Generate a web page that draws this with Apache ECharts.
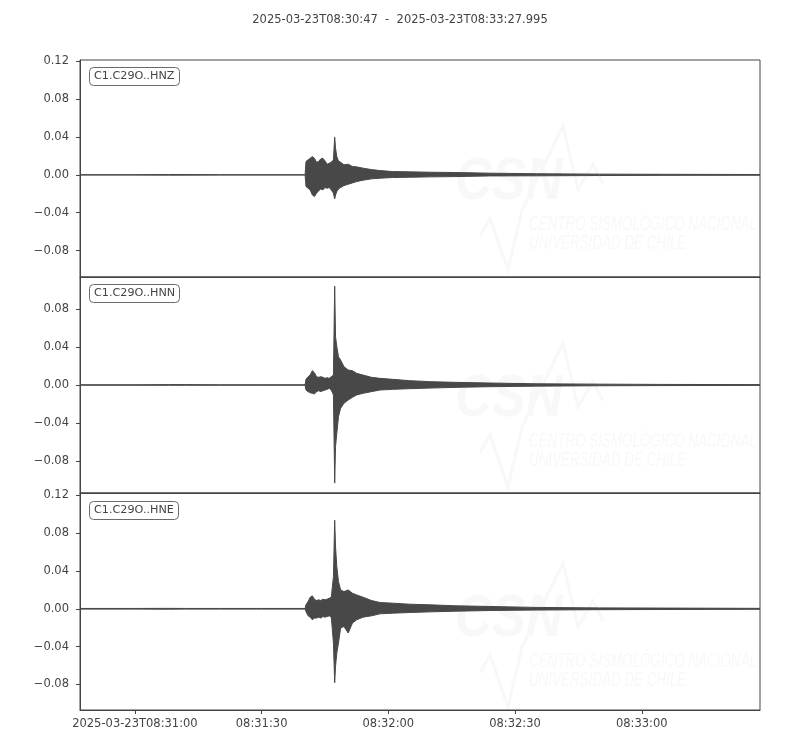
<!DOCTYPE html>
<html>
<head>
<meta charset="utf-8">
<title>C1.C29O</title>
<script src="https://cdn.jsdelivr.net/npm/echarts@6/dist/echarts.min.js"></script>
<style>
  html, body { margin: 0; padding: 0; background: #fff; }
  #chart { width: 800px; height: 750px; }
</style>
</head>
<body>
<div id="chart"></div>
<script>
// time axis: seconds relative to 08:31:00 (trace starts 08:30:47, ends 08:33:27.995)
var timesSec = [-13, 0, 8, 12, 20, 30, 40.3,
  40.5, 41, 41.5, 42, 42.5, 43, 43.5, 44, 44.5, 45, 45.5, 46, 46.5, 47,
  47.3, 47.5, 47.8, 48.2, 48.7, 49.5, 50.5, 51.5, 52.5, 54, 56, 58, 61, 65, 70, 76, 84,
  95, 110, 125, 147.995];

// envelope (upper / lower amplitude)
var hnzHigh = [0.0002, 0.0002, 0.0004, 0.0004, 0.0002, 0.0002, 0.0002,
  0.0141, 0.0159, 0.0176, 0.0194, 0.0176, 0.0134, 0.0141, 0.0169, 0.0176, 0.0148, 0.0113, 0.0123, 0.0134, 0.0159,
  0.0399, 0.0282, 0.0194, 0.0148, 0.0134, 0.0106, 0.0113, 0.0088, 0.0085, 0.0071, 0.0056, 0.0046, 0.0035, 0.0032, 0.0028, 0.0025, 0.0018,
  0.0012, 0.0008, 0.0006, 0.0004];
var hnzLow = [-0.0002, -0.0002, -0.0003, -0.0003, -0.0002, -0.0002, -0.0002,
  -0.0123, -0.0141, -0.0159, -0.0212, -0.0229, -0.0194, -0.0169, -0.0148, -0.0159, -0.0134, -0.0141, -0.0134, -0.0159, -0.0194,
  -0.0254, -0.0212, -0.0176, -0.0148, -0.0134, -0.0113, -0.0099, -0.0085, -0.0071, -0.0056, -0.0042, -0.0035, -0.0028, -0.0025, -0.0021, -0.0018, -0.0011,
  -0.0010, -0.0007, -0.0005, -0.0004];

var hnnHigh = [0.0002, 0.0002, 0.0004, 0.0004, 0.0002, 0.0002, 0.0002,
  0.0060, 0.0088, 0.0105, 0.0151, 0.0130, 0.0088, 0.0081, 0.0088, 0.0081, 0.0070, 0.0077, 0.0070, 0.0088, 0.0105,
  0.1042, 0.0509, 0.0404, 0.0298, 0.0263, 0.0193, 0.0158, 0.0151, 0.0123, 0.0105, 0.0081, 0.0070, 0.0060, 0.0046, 0.0035, 0.0028, 0.0021,
  0.0013, 0.0009, 0.0006, 0.0004];
var hnnLow = [-0.0002, -0.0002, -0.0003, -0.0003, -0.0002, -0.0002, -0.0002,
  -0.0053, -0.0070, -0.0081, -0.0088, -0.0095, -0.0070, -0.0060, -0.0070, -0.0060, -0.0053, -0.0046, -0.0035, -0.0053, -0.0105,
  -0.1035, -0.0649, -0.0509, -0.0333, -0.0246, -0.0193, -0.0158, -0.0130, -0.0105, -0.0088, -0.0070, -0.0053, -0.0046, -0.0039, -0.0032, -0.0025, -0.0018,
  -0.0012, -0.0008, -0.0006, -0.0004];

var hneHigh = [0.0004, 0.0004, 0.0005, 0.0004, 0.0004, 0.0004, 0.0004,
  0.0042, 0.0077, 0.0123, 0.0137, 0.0102, 0.0088, 0.0095, 0.0088, 0.0102, 0.0095, 0.0102, 0.0112, 0.0123, 0.0340,
  0.0937, 0.0656, 0.0446, 0.0288, 0.0200, 0.0182, 0.0200, 0.0165, 0.0147, 0.0123, 0.0088, 0.0067, 0.0060, 0.0049, 0.0042, 0.0032, 0.0025,
  0.0015, 0.0010, 0.0008, 0.0005];
var hneLow = [-0.0003, -0.0003, -0.0004, -0.0003, -0.0003, -0.0003, -0.0003,
  -0.0028, -0.0074, -0.0088, -0.0116, -0.0098, -0.0098, -0.0088, -0.0098, -0.0081, -0.0088, -0.0081, -0.0074, -0.0088, -0.0361,
  -0.0782, -0.0607, -0.0467, -0.0361, -0.0204, -0.0186, -0.0256, -0.0151, -0.0116, -0.0088, -0.0074, -0.0053, -0.0046, -0.0039, -0.0032, -0.0025, -0.0018,
  -0.0013, -0.0009, -0.0007, -0.0005];

var traceNames = ['C1.C29O..HNZ', 'C1.C29O..HNN', 'C1.C29O..HNE'];
var xTickValues = [0, 30, 60, 90, 120];
var xTickLabels = ['2025-03-23T08:31:00', '08:31:30', '08:32:00', '08:32:30', '08:33:00'];
var yTicksHNZ = [-0.08, -0.04, 0, 0.04, 0.08, 0.12];
var yTicksHNN = [-0.08, -0.04, 0, 0.04, 0.08];
var yTicksHNE = [-0.08, -0.04, 0, 0.04, 0.08, 0.12];
var yRangeHNZ = [-0.108, 0.1215];
var yRangeHNN = [-0.114, 0.114];
var yRangeHNE = [-0.107, 0.1225];

var TXT = '#444';
var WAVE = '#484848';
var FONT = 'DejaVu Sans';

var chart = echarts.init(document.getElementById('chart'), null, { renderer: 'canvas' });

var panelTops = [60, 277, 493];
var panelHeights = [217, 216, 217];

function fmtY(v) {
  return (v < 0 ? '\u2212' : '') + Math.abs(v).toFixed(2);
}

function makeGrid(i) {
  return {
    left: 80, right: 40, top: panelTops[i], height: panelHeights[i],
    show: true, borderColor: TXT, borderWidth: 1, backgroundColor: 'transparent'
  };
}

function makeX(i) {
  var last = i === 2;
  return {
    type: 'value', gridIndex: i, min: -13, max: 147.995, position: 'bottom',
    splitLine: { show: false },
    axisLine: { show: true, onZero: false, lineStyle: { color: TXT, width: 1 } },
    axisTick: { show: last, length: 4, lineStyle: { color: TXT }, customValues: xTickValues },
    axisLabel: {
      show: last, customValues: xTickValues, color: TXT, fontSize: 11.5, fontFamily: FONT, margin: 8,
      formatter: function (v) {
        var k = xTickValues.indexOf(v);
        return k >= 0 ? xTickLabels[k] : '';
      }
    }
  };
}

function makeY(i, range, ticks) {
  return {
    type: 'value', gridIndex: i, min: range[0], max: range[1], position: 'left',
    splitLine: { show: false },
    axisLine: { show: true, onZero: false, lineStyle: { color: TXT, width: 1 } },
    axisTick: { show: true, length: 4, lineStyle: { color: TXT }, customValues: ticks },
    axisLabel: { customValues: ticks, color: TXT, fontSize: 11.5, fontFamily: FONT, margin: 11, formatter: fmtY }
  };
}

// envelope drawn as one closed polygon: upper edge forward, lower edge back
function traceSeries(i, hi, lo) {
  var rows = timesSec.map(function (t, k) { return [t, hi[k], lo[k]]; });
  return {
    name: traceNames[i],
    type: 'custom', xAxisIndex: i, yAxisIndex: i, silent: true, clip: true,
    data: rows,
    encode: { x: 0, y: [1, 2] },
    renderItem: function (params, api) {
      if (params.dataIndex !== 0) return null;
      var pts = [];
      for (var k = 0; k < rows.length; k++) pts.push(api.coord([rows[k][0], rows[k][1]]));
      for (var j = rows.length - 1; j >= 0; j--) pts.push(api.coord([rows[j][0], rows[j][2]]));
      return {
        type: 'polygon',
        shape: { points: pts },
        style: { fill: WAVE, stroke: WAVE, lineWidth: 1 }
      };
    }
  };
}

// faint CSN watermark, one per panel
var markOffsets = [0, 217, 437];
var MARK = '#f8f8f8';
var graphics = [];
markOffsets.forEach(function (dy) {
  graphics.push({
    type: 'polyline', silent: true, z: -1,
    shape: { points: [[480, 236 + dy], [490, 218 + dy], [508, 270 + dy], [522, 210 + dy], [563, 126 + dy], [578, 190 + dy], [593, 164 + dy], [603, 184 + dy]] },
    style: { stroke: MARK, lineWidth: 3, fill: null }
  });
  graphics.push({
    type: 'text', silent: true, z: -1, x: 455, y: 152 + dy, scaleX: 0.85,
    style: { text: 'CSN', font: 'italic bold 60px "Liberation Sans"', fill: MARK }
  });
  graphics.push({
    type: 'text', silent: true, z: -1, x: 529, y: 214 + dy, scaleX: 0.67,
    style: { text: 'CENTRO SISMOLÓGICO NACIONAL', font: 'italic 20px "Liberation Sans"', fill: MARK }
  });
  graphics.push({
    type: 'text', silent: true, z: -1, x: 529, y: 233 + dy, scaleX: 0.67,
    style: { text: 'UNIVERSIDAD DE CHILE', font: 'italic 20px "Liberation Sans"', fill: MARK }
  });
});

var labelTops = [67, 284, 501];
var titles = [{
  text: '2025-03-23T08:30:47  -  2025-03-23T08:33:27.995',
  left: 'center', top: 14, padding: 0,
  textStyle: { color: TXT, fontSize: 11.5, fontWeight: 'normal', fontFamily: FONT }
}];
traceNames.forEach(function (name, i) {
  titles.push({
    text: name, left: 89, top: labelTops[i],
    padding: [4, 5], borderColor: '#6a6a6a', borderWidth: 1, borderRadius: 4, backgroundColor: '#fff',
    textStyle: { color: TXT, fontSize: 11.2, fontWeight: 'normal', fontFamily: FONT }
  });
});

var option = {
  animation: false,
  backgroundColor: '#fff',
  textStyle: { fontFamily: FONT },
  title: titles,
  graphic: graphics,
  grid: [makeGrid(0), makeGrid(1), makeGrid(2)],
  xAxis: [makeX(0), makeX(1), makeX(2)],
  yAxis: [makeY(0, yRangeHNZ, yTicksHNZ), makeY(1, yRangeHNN, yTicksHNN), makeY(2, yRangeHNE, yTicksHNE)],
  series: [
    traceSeries(0, hnzHigh, hnzLow),
    traceSeries(1, hnnHigh, hnnLow),
    traceSeries(2, hneHigh, hneLow)
  ]
};

chart.setOption(option);
</script>
</body>
</html>
